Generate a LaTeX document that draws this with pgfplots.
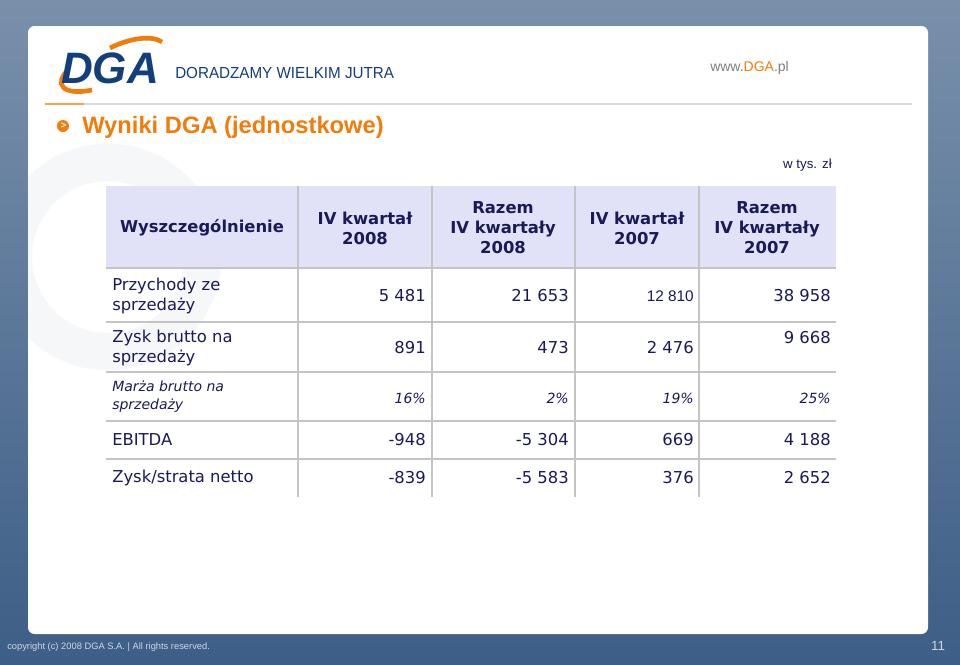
\documentclass[border=0pt]{standalone}
\usepackage{pgfplots}
\pgfplotsset{compat=1.18}
\usepackage{pgfplotstable}
\usepackage{fontspec}
\setmainfont{DejaVu Sans}
\newfontfamily\lib{Liberation Sans}
\definecolor{navy}{HTML}{1A1A5A}
\definecolor{orng}{HTML}{F07D0A}
\definecolor{dgablue}{HTML}{123F7C}
\definecolor{lav}{HTML}{E1E1F8}
\definecolor{sep}{HTML}{C4C4C4}
\definecolor{bgtop}{HTML}{7990AB}
\definecolor{bgbot}{HTML}{3D5E86}
\definecolor{wm}{HTML}{F6F7F8}

\pgfplotstableread{
x y v
426 296 5481
569 296 21653
831 296 38958
426 348 891
569 348 473
694 348 2476
831 338 9668
426 440 -948
569 440 -5304
694 440 669
831 440 4188
426 478 -839
569 478 -5583
694 478 376
831 478 2652
}\tblmain
\pgfplotstableread{
x y v
694 296 12810
}\tblarial
\pgfplotstableread{
x y v
426 398 16
569 398 2
694 398 19
831 398 25
}\tblpct

\newcommand{\bodyfont}{\fontsize{12.3}{15}\selectfont}
\begin{document}
\begin{tikzpicture}
\begin{axis}[x=0.75pt, y=0.75pt, xmin=0, xmax=960, ymin=0, ymax=664,
  y dir=reverse, hide axis, clip=false, scale only axis,
  /pgf/number format/.cd, assume math mode=true, fixed, precision=0, 1000 sep={\ }]
% background
\shade[top color=bgtop, bottom color=bgbot] (axis cs:0,0) rectangle (axis cs:960,664);
\fill[white, rounded corners=5pt] (axis cs:28,26) rectangle (axis cs:928,634);
% watermark
\begin{scope}
\clip (axis cs:28,100) rectangle (axis cs:400,634);
\draw[wm, line width=28pt] (axis cs:108,257) circle[radius=71pt];
\end{scope}
% logo
\draw[orng, line width=3.5pt] (axis cs:110,48) .. controls (axis cs:130,38) and (axis cs:152,35) .. (axis cs:162,42);
\draw[orng, line width=3.5pt] (axis cs:68,70) .. controls (axis cs:54,84) and (axis cs:62,96) .. (axis cs:92,90);
\node[font=\lib\bfseries\itshape\fontsize{33}{33}\selectfont, text=dgablue, inner sep=0pt] at (axis cs:110,68) {DGA};
\node[text=dgablue, anchor=west, inner sep=0pt] at (axis cs:175,73) {\scalebox{0.95}[1]{\lib\fontsize{12}{13}\selectfont DORADZAMY WIELKIM JUTRA}};
\node[font=\lib\fontsize{10.5}{12}\selectfont, text=gray, anchor=west, inner sep=0pt] at (axis cs:710,68) {www.\textcolor{orng}{DGA}.pl};
% separator line
\draw[gray!30, line width=1pt] (axis cs:45,104) -- (axis cs:912,104);
\draw[orng!70, line width=1.2pt] (axis cs:45,104) -- (axis cs:84,104);
% title
\fill[orng] (axis cs:63,126) circle[radius=4.5pt];
\node[text=white, font=\lib\bfseries\fontsize{7}{7}\selectfont, inner sep=0pt] at (axis cs:63.5,125.5) {>};
\node[font=\lib\bfseries\fontsize{17.8}{19}\selectfont, text=orng, anchor=west, inner sep=0pt] at (axis cs:82,127) {Wyniki DGA (jednostkowe)};
\node[font=\lib\fontsize{10}{12}\selectfont, text=navy, anchor=east, inner sep=0pt] at (axis cs:832,165) {w tys. zł};
% table frame
\fill[lav] (axis cs:106,186) rectangle (axis cs:836,268);
\draw[sep, line width=2pt] (axis cs:106,268) -- (axis cs:836,268);
\draw[sep, line width=2pt] (axis cs:106,322) -- (axis cs:836,322);
\draw[sep, line width=2pt] (axis cs:106,372) -- (axis cs:836,372);
\draw[sep, line width=2pt] (axis cs:106,421) -- (axis cs:836,421);
\draw[sep, line width=2pt] (axis cs:106,459) -- (axis cs:836,459);
\draw[sep, line width=2pt] (axis cs:298,186) -- (axis cs:298,497);
\draw[sep, line width=2pt] (axis cs:432,186) -- (axis cs:432,497);
\draw[sep, line width=2pt] (axis cs:575,186) -- (axis cs:575,497);
\draw[sep, line width=2pt] (axis cs:699,186) -- (axis cs:699,497);
% header
\begin{scope}[every node/.style={font=\bfseries\bodyfont, text=navy, align=center, inner sep=0pt}]
\node at (axis cs:202,228) {Wyszczególnienie};
\node at (axis cs:365,228) {IV kwartał\\2008};
\node at (axis cs:503,228) {Razem\\IV kwartały\\2008};
\node at (axis cs:637,228) {IV kwartał\\2007};
\node at (axis cs:767,228) {Razem\\IV kwartały\\2007};
\end{scope}
% row labels
\begin{scope}[every node/.style={font=\bodyfont, text=navy, align=left, anchor=west, inner sep=0pt}]
\node at (axis cs:112,296) {Przychody ze\\sprzedaży};
\node at (axis cs:112,348) {Zysk brutto na\\sprzedaży};
\node[font=\itshape\fontsize{10.5}{13.5}\selectfont] at (axis cs:112,397) {Marża brutto na\\sprzedaży};
\node at (axis cs:112,440) {EBITDA};
\node at (axis cs:112,478) {Zysk/strata netto};
\end{scope}
% data
\addplot[draw=none, mark=none, nodes near coords, point meta=explicit,
  every node near coord/.append style={anchor=east, inner sep=0pt, font=\bodyfont, text=navy}]
  table[x=x, y=y, meta=v] {\tblmain};
\addplot[draw=none, mark=none, nodes near coords, point meta=explicit,
  every node near coord/.append style={anchor=east, inner sep=0pt, font=\lib\fontsize{11.5}{14}\selectfont, text=navy}]
  table[x=x, y=y, meta=v] {\tblarial};
\addplot[draw=none, mark=none, nodes near coords={\pgfmathprintnumber{\pgfplotspointmeta}\%}, point meta=explicit,
  every node near coord/.append style={anchor=east, inner sep=0pt, font=\itshape\fontsize{10.5}{13}\selectfont, text=navy}]
  table[x=x, y=y, meta=v] {\tblpct};
% footer
\node[font=\lib\fontsize{7}{8}\selectfont, text=white!75!bgbot, anchor=west, inner sep=0pt] at (axis cs:7,647) {copyright (c) 2008 DGA S.A. | All rights reserved.};
\node[font=\lib\fontsize{10}{12}\selectfont, text=white!75!bgbot, inner sep=0pt] at (axis cs:938,646) {11};
\end{axis}
\end{tikzpicture}
\end{document}
